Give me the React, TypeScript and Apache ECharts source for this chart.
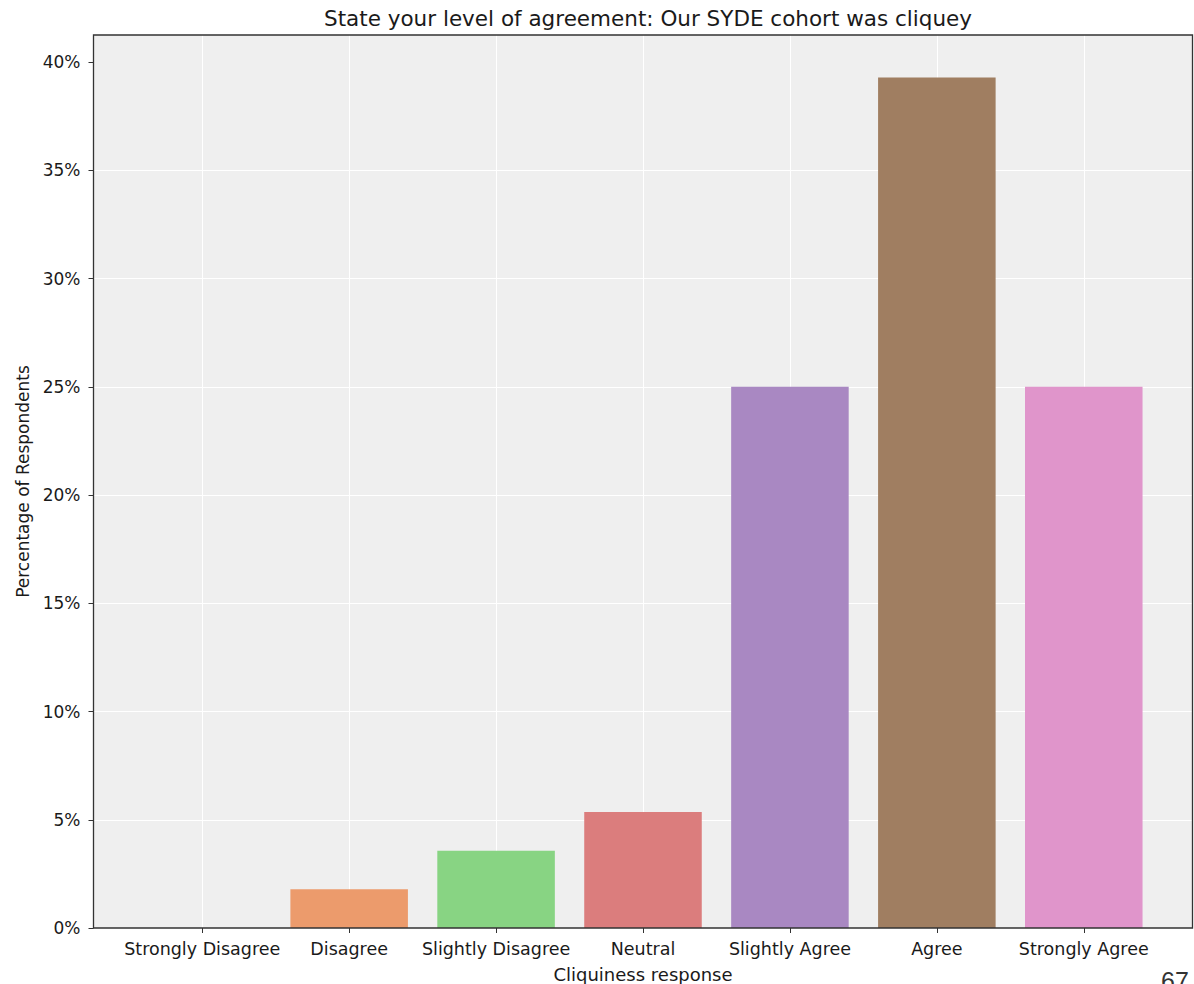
import React, { useEffect, useRef } from "react";
import * as echarts from "echarts";

const categories = [
  "Strongly Disagree",
  "Disagree",
  "Slightly Disagree",
  "Neutral",
  "Slightly Agree",
  "Agree",
  "Strongly Agree",
];
const percentages = [0, 1.79, 3.57, 5.36, 25.0, 39.29, 25.0];
const barColors = ["#6f95d9", "#ec9b6c", "#88d483", "#db7d7d", "#a988c2", "#a07e61", "#e095cb"];
const yTicks = [0, 5, 10, 15, 20, 25, 30, 35, 40];
const yMax = 41.25;
const titleText = "State your level of agreement: Our SYDE cohort was cliquey";
const xTitle = "Cliquiness response";
const yTitle = "Percentage of Respondents";
const cornerText = "67";

const W = 1194;
const H = 984;
const PL = 93.5;
const PT = 35;
const PW = 1099;
const PH = 893;
const XLO = -0.74;
const XHI = 6.74;
const UNIT = PW / (XHI - XLO);
const FONT = "DejaVu Sans";

export default function App() {
  const ref = useRef<HTMLDivElement>(null);
  useEffect(() => {
    if (!ref.current) return;
    const chart = echarts.init(ref.current, null, { renderer: "svg" });
    const catLeft = PL + (-0.5 - XLO) * UNIT;
    const catWidth = categories.length * UNIT;
    const option: any = {
      animation: false,
      backgroundColor: "#ffffff",
      textStyle: { fontFamily: FONT },
      title: {
        text: titleText,
        left: PL + PW / 2,
        textAlign: "center",
        top: 2,
        textStyle: { fontFamily: FONT, fontSize: 21.5, fontWeight: "normal", color: "#1a1a1a" },
      },
      grid: [
        {
          left: PL,
          top: PT,
          width: PW,
          height: PH,
          show: true,
          backgroundColor: "#efefef",
          borderWidth: 0,
          containLabel: false,
          outerBoundsMode: "none",
        },
        {
          left: catLeft,
          top: PT,
          width: catWidth,
          height: PH,
          show: false,
          containLabel: false,
          outerBoundsMode: "none",
        },
      ],
      xAxis: [
        { gridIndex: 0, type: "value", min: 0, max: 1, show: false },
        {
          gridIndex: 1,
          type: "category",
          data: categories,
          z: 1,
          axisLine: { show: false },
          axisTick: { show: true, alignWithLabel: true, length: 5, lineStyle: { color: "#333" } },
          axisLabel: { color: "#1a1a1a", fontSize: 17.5, fontFamily: FONT, margin: 12, interval: 0 },
          splitLine: { show: true, alignWithLabel: true, lineStyle: { color: "#ffffff", width: 1 } },
          name: xTitle,
          nameLocation: "middle",
          nameGap: 37,
          nameTextStyle: { color: "#1a1a1a", fontSize: 18, fontFamily: FONT },
        },
      ],
      yAxis: [
        {
          gridIndex: 0,
          type: "value",
          min: 0,
          max: yMax,
          interval: 5,
          z: 1,
          axisLine: { show: false },
          axisTick: { show: true, length: 5, customValues: yTicks, lineStyle: { color: "#333" } },
          axisLabel: {
            color: "#1a1a1a",
            fontSize: 17,
            fontFamily: FONT,
            margin: 13,
            customValues: yTicks,
            formatter: (v: number) => `${v}%`,
          },
          splitLine: {
            show: true,
            showMinLine: false,
            showMaxLine: false,
            lineStyle: { color: "#ffffff", width: 1 },
          },
          name: yTitle,
          nameLocation: "middle",
          nameGap: 62.5,
          nameTextStyle: { color: "#1a1a1a", fontSize: 17, fontFamily: FONT },
        },
        { gridIndex: 1, type: "value", min: 0, max: yMax, show: false },
      ],
      series: [
        {
          type: "bar",
          xAxisIndex: 1,
          yAxisIndex: 1,
          barWidth: 0.8 * UNIT,
          data: percentages.map((v, i) => ({
            value: v,
            itemStyle: { color: barColors[i] },
          })),
        },
      ],
      graphic: [
        {
          type: "rect",
          z: 100,
          shape: { x: PL, y: PT, width: PW, height: PH },
          style: { fill: "none", stroke: "#333", lineWidth: 1.3 },
        },
        {
          type: "text",
          left: 1161,
          top: 968,
          z: 100,
          style: { text: cornerText, fontSize: 25, fontFamily: "Liberation Sans", fill: "#333" },
        },
      ],
    };
    chart.setOption(option);
    return () => chart.dispose();
  }, []);
  return (
    <div
      ref={ref}
      style={{ position: "absolute", left: 0, top: 0, width: W, height: H }}
    />
  );
}
